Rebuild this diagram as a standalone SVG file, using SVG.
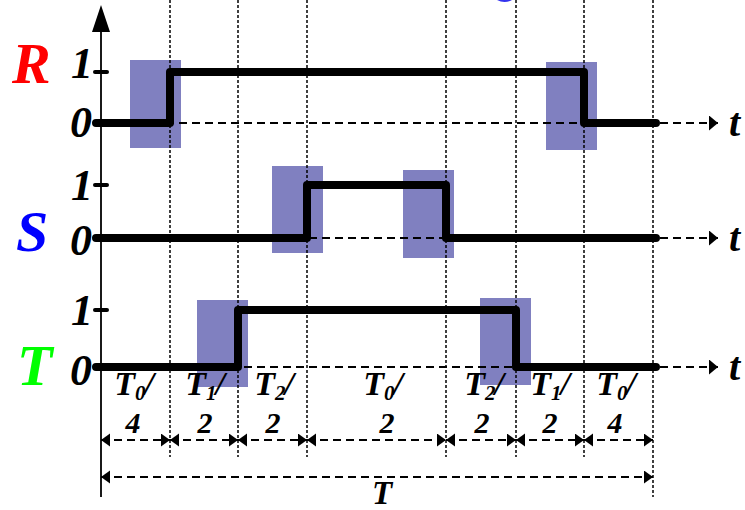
<svg xmlns="http://www.w3.org/2000/svg" width="745" height="510" viewBox="0 0 745 510">
<style>
.box{fill:#8080C0;stroke:none}
.dot{stroke:#000;stroke-width:1.5;stroke-dasharray:3 2;fill:none}
.dash{stroke:#000;stroke-width:2;stroke-dasharray:8 5;fill:none}
.sig{stroke:#000;stroke-width:8;fill:none;stroke-linecap:round;stroke-linejoin:round}
.tick{stroke:#000;stroke-width:4;stroke-linecap:round}
.lbl{font-family:"Liberation Serif","Times New Roman",serif;font-weight:bold;font-style:italic;fill:#000}
.big{font-size:58px}
.num{font-size:44px}
.tt{font-size:40px}
.fr{font-size:34px}
.sub{font-size:21px}
.den{font-size:30px}
.tot{font-size:33px}
</style>
<defs>
<marker id="ah" markerUnits="userSpaceOnUse" markerWidth="10" markerHeight="14" refX="9" refY="6.5" orient="auto-start-reverse">
<path d="M0,0 L9,6.5 L0,13 Z" fill="#000"/>
</marker>
<marker id="ta" markerUnits="userSpaceOnUse" markerWidth="10" markerHeight="16" refX="9" refY="7.5" orient="auto">
<path d="M0,0 L9,7.5 L0,15 Z" fill="#000"/>
</marker>
</defs>
<rect width="745" height="510" fill="#fff"/>
<path d="M497,0 Q504.5,4 512,0 Z" fill="#3333ee"/>

<g id="boxes">
<rect class="box" x="130" y="60" width="51" height="88"/>
<rect class="box" x="546" y="62" width="51" height="88"/>
<rect class="box" x="272" y="166" width="51" height="87"/>
<rect class="box" x="403" y="170" width="51" height="88"/>
<rect class="box" x="197" y="300" width="51" height="87"/>
<rect class="box" x="480" y="298" width="51" height="87"/>
</g>

<g id="grid">
<line class="dot" x1="170" y1="0" x2="170" y2="457"/>
<line class="dot" x1="238" y1="0" x2="238" y2="457"/>
<line class="dot" x1="307" y1="0" x2="307" y2="457"/>
<line class="dot" x1="446" y1="0" x2="446" y2="457"/>
<line class="dot" x1="516" y1="0" x2="516" y2="457"/>
<line class="dot" x1="584" y1="0" x2="584" y2="457"/>
<line class="dot" x1="653" y1="0" x2="653" y2="497"/>
</g>

<g id="axis">
<line x1="101" y1="497" x2="101" y2="30" stroke="#000" stroke-width="1.8"/>
<polygon points="101,5 92,32 110,32" fill="#000"/>
</g>

<g id="signal-R">
<text class="lbl big" x="12" y="83" style="fill:#ff0000">R</text>
<text class="lbl num" x="93" y="78" text-anchor="end">1</text>
<text class="lbl num" x="92" y="137" text-anchor="end">0</text>
<line class="tick" x1="95" y1="72" x2="107" y2="72"/>
<line class="dash" x1="101" y1="123" x2="718" y2="123" marker-end="url(#ta)"/>
<path class="sig" d="M96,123 H170 V72 H584 V123 H656"/>
<text class="lbl tt" x="729" y="136">t</text>
</g>

<g id="signal-S">
<text class="lbl big" x="16" y="251" style="fill:#0000ff">S</text>
<text class="lbl num" x="93" y="200" text-anchor="end">1</text>
<text class="lbl num" x="92" y="255" text-anchor="end">0</text>
<line class="tick" x1="95" y1="185" x2="107" y2="185"/>
<line class="dash" x1="101" y1="238" x2="718" y2="238" marker-end="url(#ta)"/>
<path class="sig" d="M96,238 H307 V185 H446 V238 H656"/>
<text class="lbl tt" x="729" y="251">t</text>
</g>

<g id="signal-T">
<text class="lbl big" x="17" y="385" style="fill:#00ff00">T</text>
<text class="lbl num" x="93" y="325" text-anchor="end">1</text>
<text class="lbl num" x="92" y="385" text-anchor="end">0</text>
<line class="tick" x1="95" y1="310" x2="107" y2="310"/>
<line class="dash" x1="101" y1="367" x2="718" y2="367" marker-end="url(#ta)"/>
<path class="sig" d="M96,367 H238 V310 H516 V367 H656"/>
<text class="lbl tt" x="729" y="380">t</text>
</g>

<g id="intervals">
<text class="lbl fr" x="134" y="395" text-anchor="middle">T<tspan class="sub" dy="5">0</tspan><tspan dy="-5" dx="-1">/</tspan></text>
<text class="lbl fr" x="205" y="395" text-anchor="middle">T<tspan class="sub" dy="5">1</tspan><tspan dy="-5" dx="-1">/</tspan></text>
<text class="lbl fr" x="274" y="395" text-anchor="middle">T<tspan class="sub" dy="5">2</tspan><tspan dy="-5" dx="-1">/</tspan></text>
<text class="lbl fr" x="383" y="395" text-anchor="middle">T<tspan class="sub" dy="5">0</tspan><tspan dy="-5" dx="-1">/</tspan></text>
<text class="lbl fr" x="484" y="395" text-anchor="middle">T<tspan class="sub" dy="5">2</tspan><tspan dy="-5" dx="-1">/</tspan></text>
<text class="lbl fr" x="550" y="395" text-anchor="middle">T<tspan class="sub" dy="5">1</tspan><tspan dy="-5" dx="-1">/</tspan></text>
<text class="lbl fr" x="616" y="395" text-anchor="middle">T<tspan class="sub" dy="5">0</tspan><tspan dy="-5" dx="-1">/</tspan></text>
<text class="lbl den" x="133" y="433" text-anchor="middle">4</text>
<text class="lbl den" x="205" y="433" text-anchor="middle">2</text>
<text class="lbl den" x="273" y="433" text-anchor="middle">2</text>
<text class="lbl den" x="387" y="433" text-anchor="middle">2</text>
<text class="lbl den" x="482" y="433" text-anchor="middle">2</text>
<text class="lbl den" x="550" y="433" text-anchor="middle">2</text>
<text class="lbl den" x="615" y="433" text-anchor="middle">4</text>
<text class="lbl tot" x="382" y="504" text-anchor="middle">T</text>
</g>

<g id="connectors">
<line class="dash" x1="101" y1="440" x2="170" y2="440" marker-start="url(#ah)" marker-end="url(#ah)"/>
<line class="dash" x1="170" y1="440" x2="238" y2="440" marker-start="url(#ah)" marker-end="url(#ah)"/>
<line class="dash" x1="238" y1="440" x2="307" y2="440" marker-start="url(#ah)" marker-end="url(#ah)"/>
<line class="dash" x1="307" y1="440" x2="446" y2="440" marker-start="url(#ah)" marker-end="url(#ah)"/>
<line class="dash" x1="446" y1="440" x2="516" y2="440" marker-start="url(#ah)" marker-end="url(#ah)"/>
<line class="dash" x1="516" y1="440" x2="584" y2="440" marker-start="url(#ah)" marker-end="url(#ah)"/>
<line class="dash" x1="584" y1="440" x2="653" y2="440" marker-start="url(#ah)" marker-end="url(#ah)"/>
<line class="dash" x1="101" y1="477" x2="653" y2="477" marker-start="url(#ah)" marker-end="url(#ah)"/>
</g>
</svg>
